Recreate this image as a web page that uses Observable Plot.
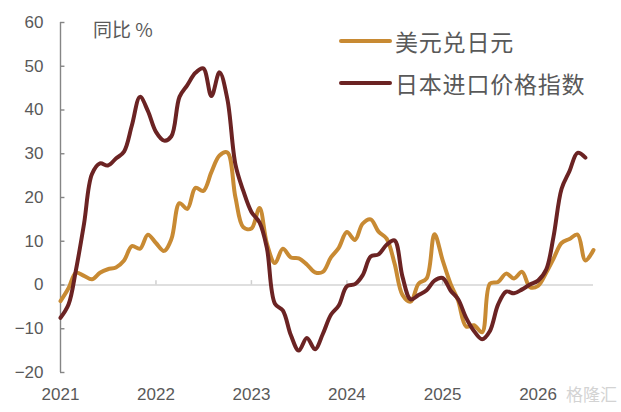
<!DOCTYPE html>
<html>
<head>
<meta charset="utf-8">
<script src="https://cdn.jsdelivr.net/npm/d3@7"></script>
<script src="https://cdn.jsdelivr.net/npm/@observablehq/plot@0.6"></script>
<style>
  body { margin: 0; background: #fff; }
  #wrap { position: relative; width: 621px; height: 412px; font-family: "Noto Sans CJK SC", "Noto Sans", sans-serif; color: #595959; }
  .lg-line { position: absolute; width: 53px; height: 4px; border-radius: 2px; }
  .lg-text { position: absolute; font-size: 23px; line-height: 24px; white-space: nowrap; color: #595959; letter-spacing: 0.8px; }
  #unit { position: absolute; left: 93px; top: 17px; font-size: 19px; line-height: 24px; color: #595959; }
  #wm { position: absolute; left: 566px; top: 382px; font-size: 17px; line-height: 24px; color: #d3d3d3; }
</style>
</head>
<body>
<div id="wrap"></div>
<script>
// ---- data (monthly, starting Jan 2021) ----
const startYear = 2021;
const seriesNames = ["美元兑日元", "日本进口价格指数"];
const seriesColors = ["#C88A33", "#6B2323"];
const unitLabel = "同比 %";
const yTicks = [-20, -10, 0, 10, 20, 30, 40, 50, 60];
const xTickYears = [2021, 2022, 2023, 2024, 2025, 2026];

const usdJpy = [
  -3.7, -0.7, 2.8, 2.1, 1.3, 2.8, 3.6, 4.0, 5.6, 8.9, 8.3, 11.5,
  9.6, 7.8, 10.5, 18.7, 17.4, 22.2, 21.5, 25.8, 29.6, 30.3, 20.0, 13.2,
  12.9, 17.6, 9.5, 5.0, 8.3, 6.3, 6.1, 4.7, 2.9, 3.0, 6.3, 8.5,
  12.1, 10.3, 14.0, 15.0, 12.2, 10.6, 5.0, -2.3, -3.8, 0.3, 1.5, 11.6,
  5.7, 0.2, -3.5, -9.5, -9.2, -10.8, 0.3, 0.7, 2.6, 1.5, 3.0, -0.5,
  -0.2, 2.8, 6.0, 9.6, 10.5, 11.5, 5.6, 8.0
];
const importPrice = [
  -7.5, -4.4, 3.4, 14.0, 25.3, 27.8, 27.3, 28.9, 30.5, 36.5, 43.0, 39.8,
  35.0, 33.0, 34.0, 43.0, 45.7, 48.5, 49.5, 43.2, 48.6, 42.5, 27.5, 21.5,
  16.7, 14.3, 8.5, -4.3, -5.8, -11.5, -15.0, -12.1, -14.7, -11.2, -6.8, -4.7,
  -0.3, 0.2, 2.2, 6.5, 7.0, 9.2, 10.2, 1.8, -3.3, -2.3, -1.2, 1.0,
  1.6, -1.3, -3.2, -7.5, -10.5, -12.4, -10.5, -4.5, -1.5, -1.9, -1.0, 0.1,
  1.0, 3.5, 11.0, 22.0, 26.0, 30.2, 29.1
];

// ---- build tables ----
const start = new Date(Date.UTC(startYear, 0, 1));
const toRows = (arr) => arr.map((v, i) => ({ date: d3.utcMonth.offset(start, i), value: v }));
const rowsA = toRows(usdJpy);
const rowsB = toRows(importPrice);
const tickDates = xTickYears.map(y => new Date(Date.UTC(y, 0, 1)));
const end = d3.utcMonth.offset(start, usdJpy.length - 1);

const chart = Plot.plot({
  width: 621,
  height: 412,
  marginLeft: 60,
  marginRight: 28,
  marginTop: 22,
  marginBottom: 40,
  x: { type: "utc", domain: [start, end] },
  y: { domain: [-20, 60] },
  style: { fontFamily: "'Liberation Sans', Arial, sans-serif", fontSize: "17px", color: "#595959", background: "white", overflow: "visible" },
  marks: [
    Plot.ruleY([0], { stroke: "#d4d4d4", strokeWidth: 1.6 }),
    Plot.ruleX(tickDates.slice(1, -1), { y1: 0, y2: 1, stroke: "#cfcfcf", strokeWidth: 1.5 }),
    Plot.ruleX([start], { y1: -20, y2: 60, stroke: "#858585", strokeWidth: 1.4 }),
    Plot.ruleY(yTicks, { x1: start, x2: d3.utcDay.offset(start, 17), stroke: "#858585", strokeWidth: 1.4 }),
    Plot.axisY(yTicks, { tickSize: 0, tickPadding: 17, label: null }),
    Plot.axisX(tickDates, { tickSize: 0, tickPadding: 15, tickFormat: d3.utcFormat("%Y"), label: null }),
    Plot.line(rowsA, { x: "date", y: "value", stroke: seriesColors[0], strokeWidth: 4, curve: "catmull-rom" }),
    Plot.line(rowsB, { x: "date", y: "value", stroke: seriesColors[1], strokeWidth: 4, curve: "catmull-rom" })
  ]
});

const wrap = document.getElementById("wrap");
wrap.appendChild(chart);

// unit label
const unit = document.createElement("div");
unit.id = "unit";
unit.textContent = unitLabel;
wrap.appendChild(unit);

// legend
const legendY = [41, 83];
seriesNames.forEach((name, i) => {
  const ln = document.createElement("div");
  ln.className = "lg-line";
  ln.style.left = "339px";
  ln.style.top = (legendY[i] - 2) + "px";
  ln.style.background = seriesColors[i];
  wrap.appendChild(ln);
  const tx = document.createElement("div");
  tx.className = "lg-text";
  tx.style.left = "395px";
  tx.style.top = (legendY[i] - 12) + "px";
  tx.textContent = name;
  wrap.appendChild(tx);
});

// watermark
const wm = document.createElement("div");
wm.id = "wm";
wm.textContent = "格隆汇";
wrap.appendChild(wm);
</script>
</body>
</html>
